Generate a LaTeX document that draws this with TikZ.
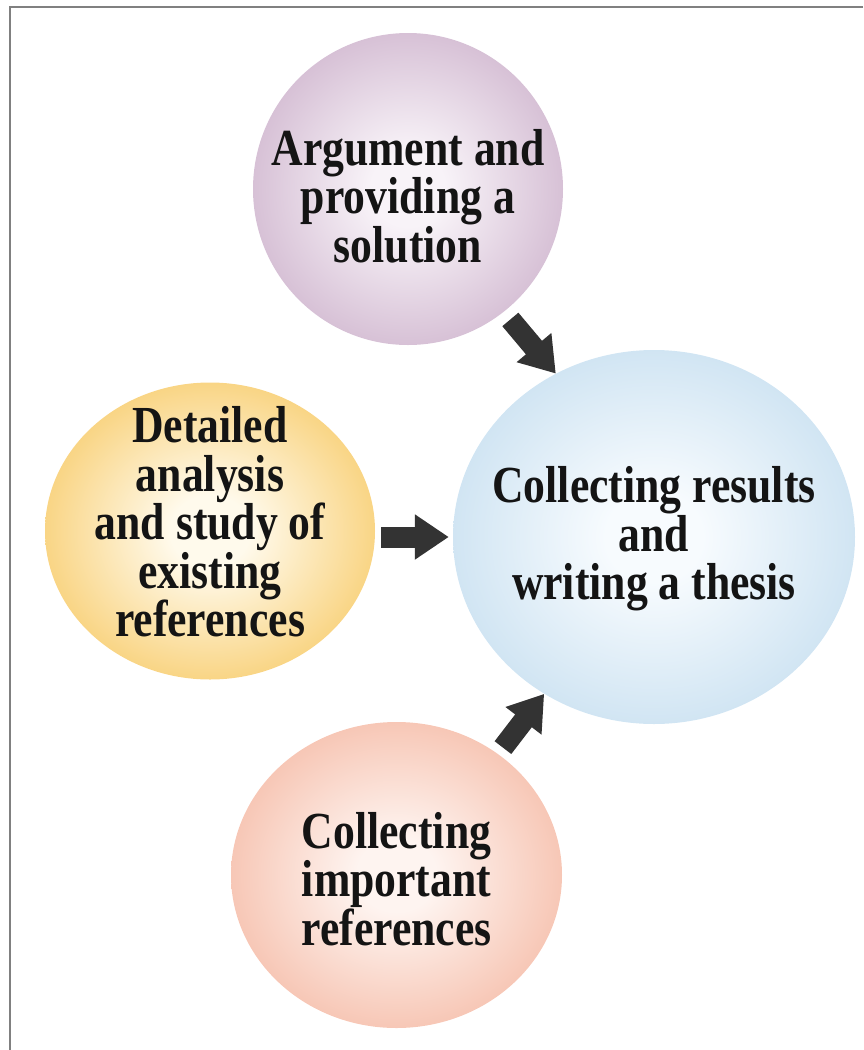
\documentclass[tikz,border=0pt]{standalone}
\usepackage{fontspec}
\setmainfont{Liberation Serif}[FakeStretch=0.84]
\usepackage{tikz}
\usetikzlibrary{shapes.geometric,arrows.meta,positioning,calc}
\definecolor{argueedge}{RGB}{215,193,214}
\definecolor{arguecore}{RGB}{248,243,248}
\definecolor{surveyedge}{RGB}{249,213,133}
\definecolor{surveycore}{RGB}{255,250,236}
\definecolor{resultedge}{RGB}{209,229,243}
\definecolor{resultcore}{RGB}{247,251,254}
\definecolor{notesedge}{RGB}{247,199,182}
\definecolor{notescore}{RGB}{254,244,240}
\definecolor{fatgray}{RGB}{51,51,51}
\definecolor{framegray}{RGB}{128,128,128}
\colorlet{glowcore}{white}
\colorlet{glowedge}{white}
\pgfdeclareradialshading[glowcore,glowedge]{glow}{\pgfpoint{0bp}{0bp}}{%
  color(0bp)=(glowcore); color(6bp)=(glowcore);
  color(25bp)=(glowedge); color(50bp)=(glowedge)}

\begin{document}
\begin{tikzpicture}[
  x=1pt, y=-1pt,
  bubble/.style 2 args={ellipse, inner sep=0pt, draw=none, shading=glow,
                        /utils/exec={\colorlet{glowcore}{#1}\colorlet{glowedge}{#2}}},
  txt/.style={font=\fontsize{52pt}{48.5pt}\selectfont\bfseries,
              align=center, text=black!92, inner sep=0pt},
  fat/.style={-{Triangle[length=34pt, width=43pt]}, line width=21pt, draw=fatgray}
]
\useasboundingbox (0,0) rectangle (863,1050);

% --- Frame ---
\draw[framegray, line width=2pt] (863,6.5) -| (9.5,1050);

% --- Bubbles ---
\node[bubble={resultcore}{resultedge}, minimum width=402pt, minimum height=374pt]
  (result) at (654,537) {};
\node[bubble={arguecore}{argueedge}, minimum width=310pt, minimum height=312pt]
  (argue) at (408,189) {};
\node[bubble={surveycore}{surveyedge}, minimum width=330pt, minimum height=297pt]
  (survey) at (210,531) {};
\node[bubble={notescore}{notesedge}, minimum width=331pt, minimum height=306pt]
  (notes) at (396.5,875) {};

% --- Texts ---
\node[txt] (result-t) at ([yshift=-2pt]result.center) {Collecting results\\and\\writing a thesis};
\node[txt] (argue-t) at ([yshift=-7pt]argue.center) {Argument and\\providing a\\solution};
\node[txt] (survey-t) at ([yshift=9pt]survey.center) {Detailed\\analysis\\and study of\\existing\\references};
\node[txt] (notes-t) at ([yshift=-4pt]notes.center) {Collecting\\important\\references};

% --- Arrows ---
\draw[fat, shorten <=10pt] (argue.-52) -- (result.121);
\draw[fat, shorten <=6pt, shorten >=4pt] (survey.east |- result.west) -- (result.west);
\draw[fat, shorten <=8pt] (notes.50) -- (result.235);

\end{tikzpicture}
\end{document}
